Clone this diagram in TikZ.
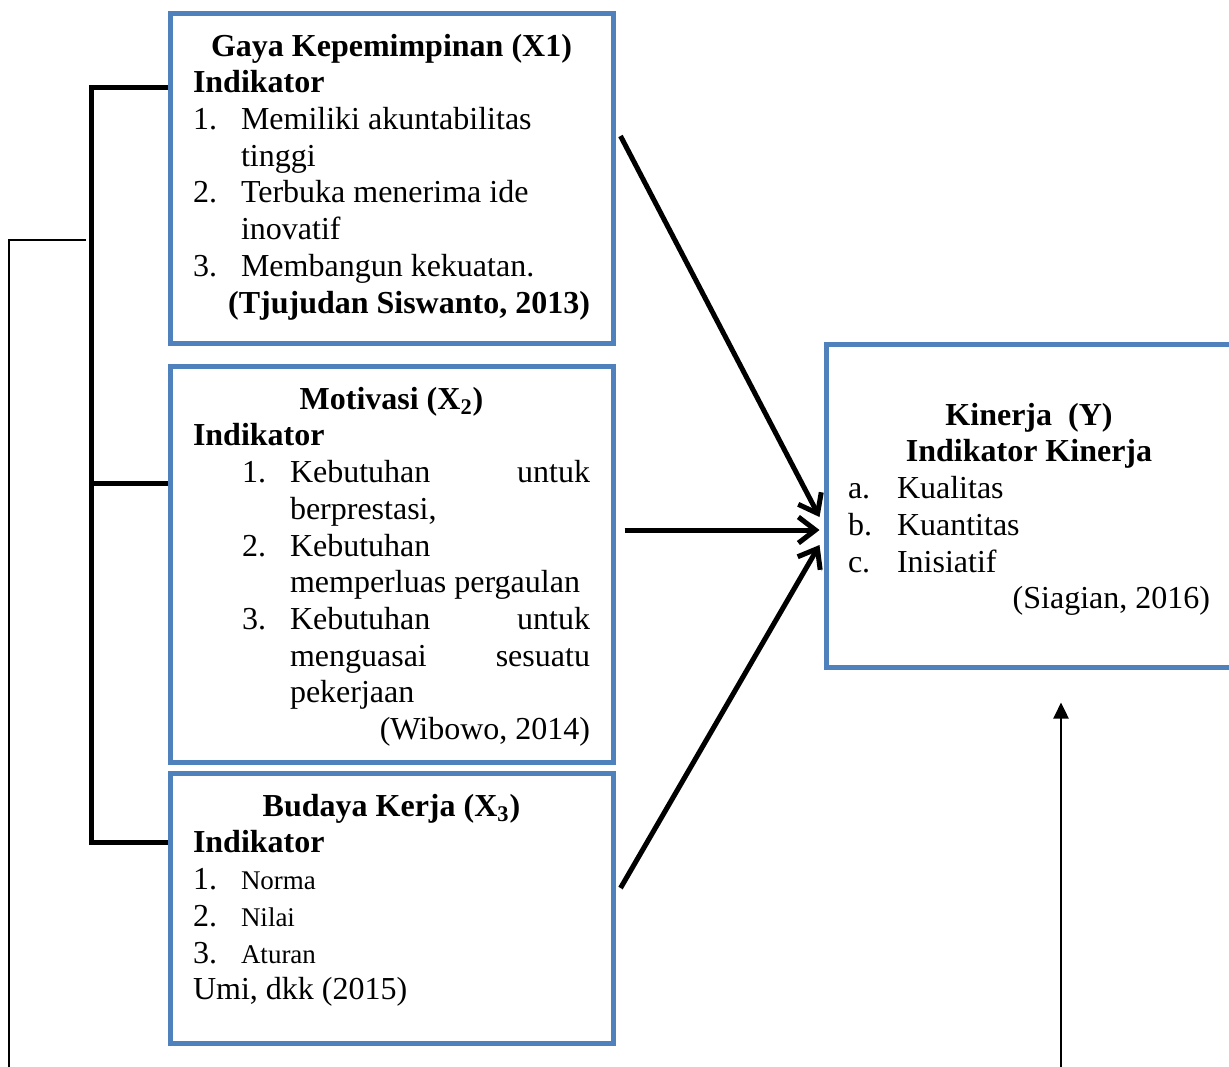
\documentclass[tikz,border=0pt]{standalone}
\usepackage{fontspec}
\setmainfont{Liberation Serif}
\usepackage{array}
\usetikzlibrary{arrows.meta, positioning}

\definecolor{boxblue}{HTML}{4F81BD}

\begin{document}
\begin{tikzpicture}[x=0.5pt,y=-0.5pt,>={Straight Barb[length=8.5pt,width=13pt]},
    box/.style={draw=boxblue,line width=2.5pt,rectangle,inner sep=0pt},
    txt/.style={inner sep=0pt,font=\fontsize{16}{18.35}\selectfont},
    arr/.style={->,line width=2.5pt,
      preaction={draw=gray!50,transform canvas={xshift=0.8pt,yshift=-0.8pt}}},
    brace/.style={line width=2.5pt}]
  \clip (0,0) rectangle (1229,1066);
  \fill[white] (0,0) rectangle (1229,1066);

  % boxes
  \node[box,minimum width=221.5pt,minimum height=165pt] (gaya) at (391.5,178) {};
  \node[box,minimum width=221.5pt,minimum height=198pt] (motiv) at (391.5,564) {};
  \node[box,minimum width=221.5pt,minimum height=135pt] (budaya) at (391.5,908) {};
  \node[box,minimum width=205pt,minimum height=161.5pt] (kinerja) at (1031,505.5) {};

  % texts
  \node[txt,below=9.8pt of gaya.north] (gayatxt) {%
    \begin{tabular}{@{}p{24pt}@{}p{174.5pt}@{}}
      \multicolumn{2}{@{}c@{}}{\textbf{Gaya Kepemimpinan (X1)}}\\
      \multicolumn{2}{@{}l@{}}{\textbf{Indikator}}\\
      1. & Memiliki akuntabilitas\\
         & tinggi\\
      2. & Terbuka menerima ide\\
         & inovatif\\
      3. & Membangun kekuatan.\\
      \multicolumn{2}{@{}r@{}}{\textbf{(Tjujudan Siswanto, 2013)}}\\
    \end{tabular}};
  \node[txt,below=9.8pt of motiv.north] (motivtxt) {%
    \begin{tabular}{@{}p{24.5pt}@{}p{24pt}@{}p{150pt}@{}}
      \multicolumn{3}{@{}c@{}}{\textbf{Motivasi (X\textsubscript{2})}}\\
      \multicolumn{3}{@{}l@{}}{\textbf{Indikator}}\\
      & 1. & Kebutuhan\hfill untuk\\
      &    & berprestasi,\\
      & 2. & Kebutuhan\\
      &    & memperluas pergaulan\\
      & 3. & Kebutuhan\hfill untuk\\
      &    & menguasai\hfill sesuatu\\
      &    & pekerjaan\\
      \multicolumn{3}{@{}r@{}}{(Wibowo, 2014)}\\
    \end{tabular}};
  \node[txt,below=9.8pt of budaya.north] (budayatxt) {%
    \begin{tabular}{@{}p{24pt}@{}p{174.5pt}@{}}
      \multicolumn{2}{@{}c@{}}{\textbf{Budaya Kerja (X\textsubscript{3})}}\\
      \multicolumn{2}{@{}l@{}}{\textbf{Indikator}}\\
      1. & {\fontsize{13.5}{14}\selectfont Norma}\\
      2. & {\fontsize{13.5}{14}\selectfont Nilai}\\
      3. & {\fontsize{13.5}{14}\selectfont Aturan}\\
      \multicolumn{2}{@{}l@{}}{Umi, dkk (2015)}\\
    \end{tabular}};
  \node[txt,below=28.8pt of kinerja.north,xshift=-1pt] (kinerjatxt) {%
    \begin{tabular}{@{}p{24.5pt}@{}p{156.5pt}@{}}
      \multicolumn{2}{@{}c@{}}{\textbf{Kinerja~ (Y)}}\\
      \multicolumn{2}{@{}c@{}}{\textbf{Indikator Kinerja}}\\
      a. & Kualitas\\
      b. & Kuantitas\\
      c. & Inisiatif\\
      \multicolumn{2}{@{}r@{}}{(Siagian, 2016)}\\
    \end{tabular}};

  % bracket on the left
  \draw[brace] ([yshift=45.5pt]gaya.west) -- ++(-38.25pt,0) |- ([yshift=33pt]budaya.west);
  \draw[brace] ([yshift=40.5pt]motiv.west) -- ++(-38.25pt,0);
  \coordinate (ltop) at (86,240);
  \coordinate (lbot) at (8.5,1070);
  \draw[line width=1pt] (ltop) -| (lbot);

  % arrows to Y
  \draw[arr] ([shift={(2.5pt,21pt)}]gaya.east) -- ([shift={(-2pt,-5.75pt)}]kinerja.west);
  \draw[arr] ([shift={(4.5pt,17pt)}]motiv.east) -- ([shift={(-2pt,-12.25pt)}]kinerja.west);
  \draw[arr] ([shift={(2.5pt,10pt)}]budaya.east) -- ([shift={(-2pt,-19.75pt)}]kinerja.west);
  \coordinate (ybot) at (1061,1070);
  \draw[-{Triangle[length=8pt,width=7.5pt]},line width=1.2pt] (ybot) -- ([shift={(15pt,-16.5pt)}]kinerja.south);
\end{tikzpicture}
\end{document}
